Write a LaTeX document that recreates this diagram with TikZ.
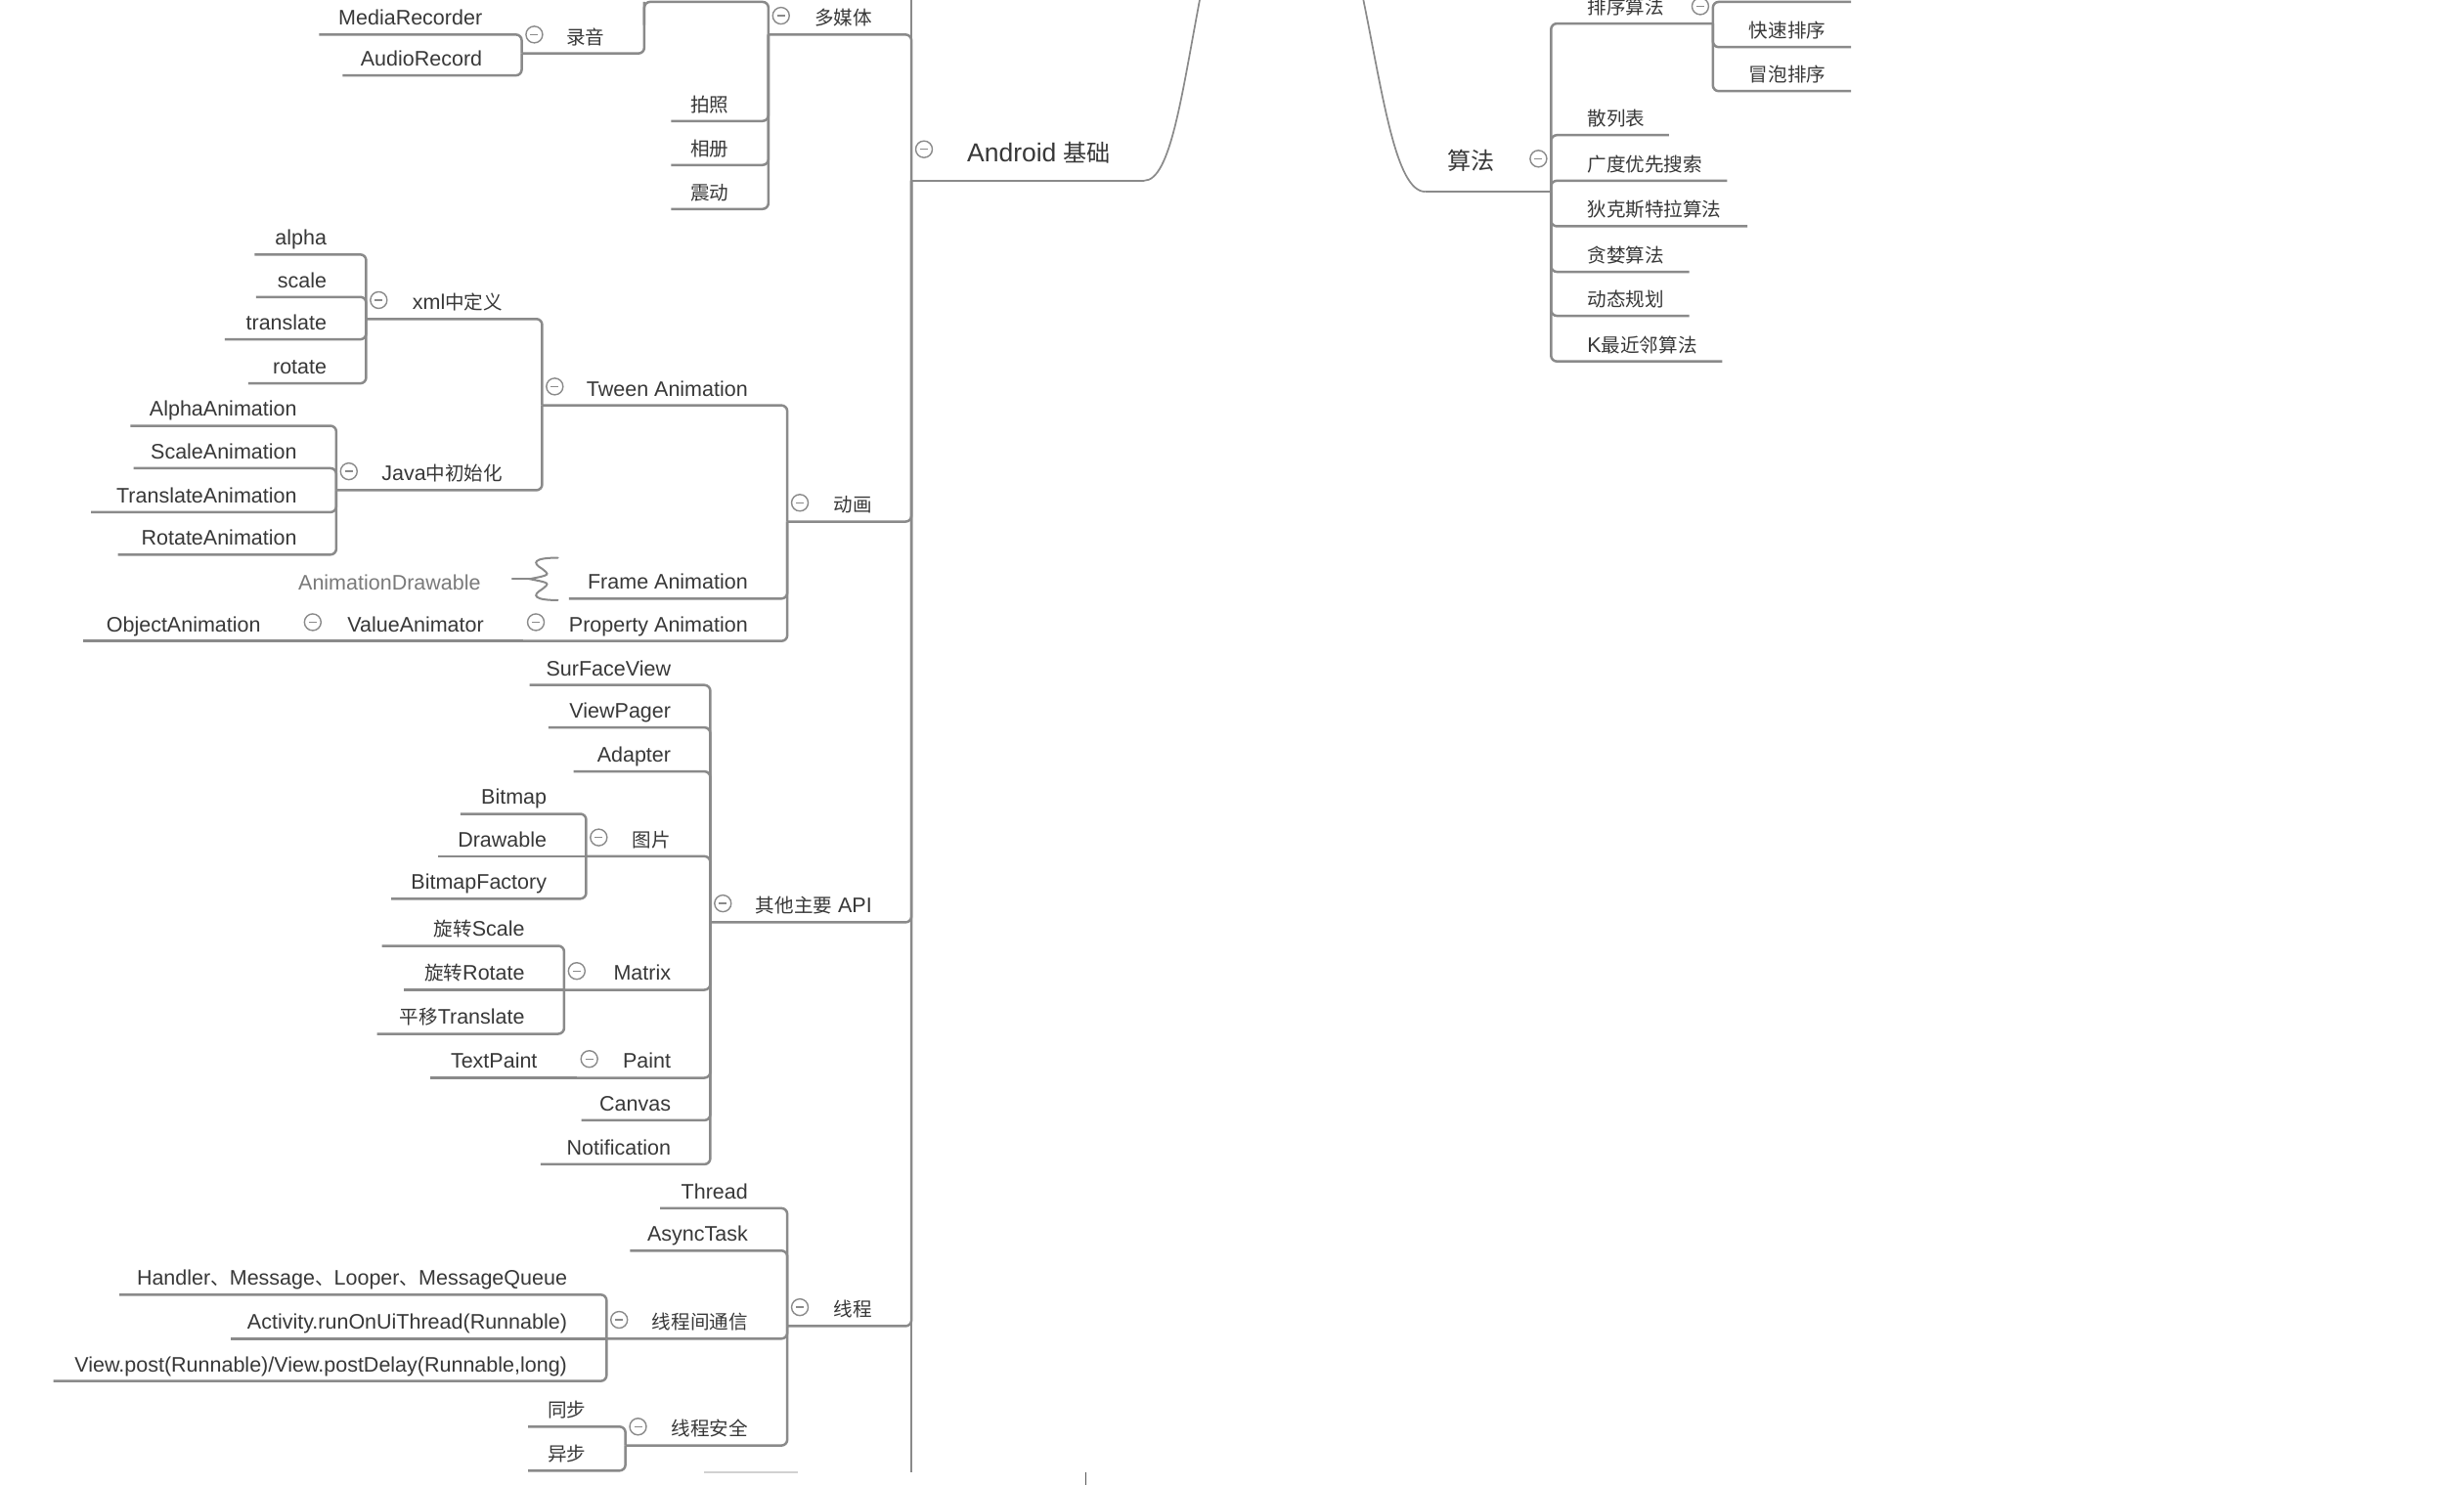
\documentclass[tikz,border=0pt]{standalone}
\usepackage{fontspec}
\setmainfont{Liberation Sans}
\newfontfamily\cjk{Noto Sans CJK SC}[Scale=0.91]
\usetikzlibrary{calc}
\definecolor{linec}{HTML}{8A8A8A}
\definecolor{txtc}{HTML}{383838}
\definecolor{foldc}{HTML}{8A8A8A}
\definecolor{ghost}{HTML}{7A7A7A}
\tikzset{
  lt/.style={font=\fontsize{21.5}{25}\selectfont, text=txtc, inner sep=0pt},
  bigt/.style={font=\fontsize{26.5}{31}\selectfont, text=txtc, inner sep=0pt},
  ln/.style={draw=linec, line width=2.5pt, rounded corners=6pt},
  curvec/.style={draw=linec, line width=1.7pt},
  bracec/.style={draw=linec, line width=2pt, line cap=round},
  fold/.style={circle, draw=foldc, line width=1.4pt, minimum size=17pt, inner sep=0pt, fill=white,
    path picture={\draw[foldc,line width=1.4pt] ([xshift=-4pt]path picture bounding box.center) -- ([xshift=4pt]path picture bounding box.center);}},
}
% left child: name, parent, underline-left x, underline y, text
\newcommand\LNode[5]{%
  \coordinate (#1-u) at (#3,#4);
  \node[lt,anchor=base east] (#1) at ($(#1-u -| #2-u)+(-25,-6)$) {#5};
  \draw[ln] (#1-u) -- (#1-u -| #2-u) -- (#2-u);
}
% left child on the same line as its parent
\newcommand\LNodeS[5]{%
  \coordinate (#1-u) at (#3,#4);
  \node[lt,anchor=base east] (#1) at ($(#2-u)+(-25,-6)$) {#5};
  \draw[ln] (#1-u) -- (#2-u);
}
% right child: name, parent, underline-right x, underline y, text
\newcommand\RNode[5]{%
  \coordinate (#1-u) at (#3,#4);
  \node[lt,anchor=base west] (#1) at ($(#1-u -| #2-u)+(23,-6)$) {#5};
  \draw[ln] (#1-u) -- (#1-u -| #2-u) -- (#2-u);
}
\newcommand\LFold[1]{\node[fold] (#1-f) at ($(#1-u)+(8,-12)$) {};}
\newcommand\RFold[1]{\node[fold] (#1-f) at ($(#1-u)+(-8,-11)$) {};}
\begin{document}
\begin{tikzpicture}[x=1.60714pt, y=-1.60714pt]
\useasboundingbox (0,0) rectangle (1568,944.6);
\fill[white] (0,0) rectangle (1568,944.6);
\clip (0,0) rectangle (1568,944.6);

% ---------- Android basics (left) ----------
\coordinate (an-u) at (580,115);
\coordinate (an-e) at (728,115);
\coordinate (root-l) at (764,-3);
\node[bigt,anchor=base east] (an) at (707,103) {Android {\cjk 基础}};
\draw[ln] (an-u) -- (an-e);
\draw[curvec] (an-e) .. controls (745,115) and (752,60) .. (root-l);
\coordinate (trunk-t) at (580,-3);
\coordinate (trunk-b) at (580,937);
\draw[ln] (trunk-t) -- (trunk-b);
\node[fold] (an-f) at ($(an-u)+(8,-20)$) {};

% multimedia
\LNode{mm}{an}{489}{22}{\cjk 多媒体}
\coordinate (t1-u) at (410,1.2);
\coordinate (t1-b) at (410,16);
\draw[ln] (t1-b) -- (t1-u) -- (t1-u -| mm-u) -- (mm-u);
\LNode{ly}{t1}{332}{34}{\cjk 录音}
\LNode{mr}{ly}{203}{22}{MediaRecorder}
\LNode{ar}{ly}{218}{48}{AudioRecord}
\LNode{pz}{mm}{427}{77}{\cjk 拍照}
\LNode{xc}{mm}{427}{105}{\cjk 相册}
\LNode{zd}{mm}{427}{133}{\cjk 震动}
\LFold{mm}
\LFold{ly}

% animation
\LNode{dh}{an}{501}{332}{\cjk 动画}
\LNode{tw}{dh}{345}{258}{Tween Animation}
\LNode{xml}{tw}{233}{203}{xml{\cjk 中定义}}
\LNode{al}{xml}{162}{162}{alpha}
\LNode{sc}{xml}{163}{189}{scale}
\LNode{tr}{xml}{143}{216}{translate}
\LNode{ro}{xml}{158}{244}{rotate}
\LNode{ja}{tw}{214}{312}{Java{\cjk 中初始化}}
\LNode{aa}{ja}{83}{271}{AlphaAnimation}
\LNode{sa}{ja}{85}{298}{ScaleAnimation}
\LNode{ta}{ja}{58}{326}{TranslateAnimation}
\LNode{ra}{ja}{75}{353}{RotateAnimation}
\LNode{fa}{dh}{362}{381}{Frame Animation}
\node[lt,text=ghost,anchor=base east] (ad) at (306,375.5) {AnimationDrawable};
\coordinate (br-t) at (355,355);
\coordinate (br-m) at (337,368.5);
\coordinate (br-b) at (355,382);
\coordinate (br-l) at (326,368.5);
\draw[bracec] (br-t) .. controls (340,355) and (338,358) .. (345,362)
  .. controls (350,366) .. (br-m) .. controls (350,371) .. (345,375)
  .. controls (338,379) and (340,382) .. (br-b);
\draw[bracec] (br-l) -- (br-m);
\LNode{pa}{dh}{333}{408}{Property Animation}
\LNodeS{va}{pa}{191}{408}{ValueAnimator}
\LNodeS{oa}{va}{53}{408}{ObjectAnimation}
\LFold{dh}
\LFold{tw}
\LFold{xml}
\LFold{ja}
\LFold{pa}
\LFold{va}

% other main API
\LNode{api}{an}{452}{587}{{\cjk 其他主要} API}
\LNode{sv}{api}{337}{436}{SurFaceView}
\LNode{vp}{api}{349}{463}{ViewPager}
\LNode{adp}{api}{365}{491}{Adapter}
\LNode{img}{api}{373}{545}{\cjk 图片}
\LNode{bm}{img}{293}{518}{Bitmap}
\LNodeS{dr}{img}{279}{545}{Drawable}
\LNode{bf}{img}{249}{572}{BitmapFactory}
\LNode{mx}{api}{359}{630}{Matrix}
\LNode{xs}{mx}{243}{602}{{\cjk 旋转}Scale}
\LNodeS{xr}{mx}{257}{630}{{\cjk 旋转}Rotate}
\LNode{py}{mx}{240}{658}{{\cjk 平移}Translate}
\LNode{pt}{api}{367}{686}{Paint}
\LNodeS{tpt}{pt}{274}{686}{TextPaint}
\LNode{cv}{api}{370}{713}{Canvas}
\LNode{nt}{api}{344}{741}{Notification}
\LFold{api}
\LFold{img}
\LFold{mx}
\LFold{pt}

% threads
\LNode{xcz}{an}{501}{844}{\cjk 线程}
\LNode{th}{xcz}{420}{769}{Thread}
\LNode{at}{xcz}{401}{796}{AsyncTask}
\LNode{tx}{xcz}{386}{852}{\cjk 线程间通信}
\LNode{hm}{tx}{76}{824}{Handler{\cjk 、}Message{\cjk 、}Looper{\cjk 、}MessageQueue}
\LNodeS{ar2}{tx}{147}{852}{Activity.runOnUiThread(Runnable)}
\LNode{vpo}{tx}{34}{879}{View.post(Runnable)/View.postDelay(Runnable,long)}
\LNode{aq}{xcz}{398}{920}{\cjk 线程安全}
\LNode{tb}{aq}{336}{908}{\cjk 同步}
\LNode{yb}{aq}{336}{936}{\cjk 异步}
\LFold{xcz}
\LFold{tx}
\LFold{aq}

% bottom edge fragments
\coordinate (frag-a) at (448,937);
\coordinate (frag-b) at (508,937);
\coordinate (frag-c) at (691,937);
\coordinate (frag-d) at (691,946);
\draw[draw=black!18, line width=1.6pt] (frag-a) -- (frag-b);
\draw[draw=black!65, line width=1.2pt] (frag-c) -- (frag-d);

% ---------- Algorithms (right) ----------
\coordinate (sf-u) at (987,122);
\coordinate (sf-e) at (907,122);
\coordinate (root-r) at (867,-3);
\node[bigt,anchor=base west] (sf) at (921,108) {\cjk 算法};
\draw[ln] (sf-u) -- (sf-e);
\draw[curvec] (sf-e) .. controls (888,122) and (880,60) .. (root-r);
\RNode{px}{sf}{1090}{15}{\cjk 排序算法}
\coordinate (t2-u) at (1178,1.2);
\draw[ln] (t2-u) -- (t2-u -| px-u) -- (px-u);
\RNode{ks}{px}{1178}{30}{\cjk 快速排序}
\RNode{mp}{px}{1178}{58}{\cjk 冒泡排序}
\RNode{sl}{sf}{1062}{86}{\cjk 散列表}
\RNode{gd}{sf}{1099}{115}{\cjk 广度优先搜索}
\RNode{dk}{sf}{1112}{144}{\cjk 狄克斯特拉算法}
\RNode{tl}{sf}{1075}{173}{\cjk 贪婪算法}
\RNode{dt}{sf}{1075}{201}{\cjk 动态规划}
\RNode{kn}{sf}{1096}{230}{K{\cjk 最近邻算法}}
\node[fold] (sf-f) at ($(sf-u)+(-8,-21)$) {};
\RFold{px}
\end{tikzpicture}
\end{document}
